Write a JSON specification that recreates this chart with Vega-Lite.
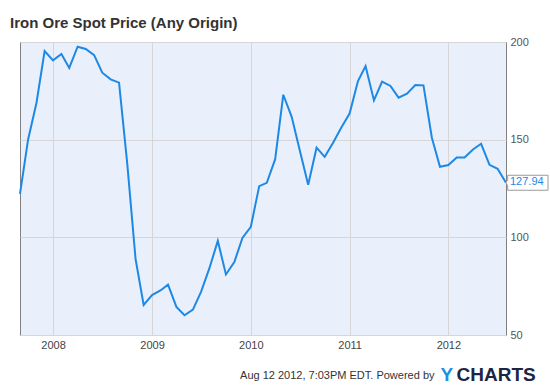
{
  "$schema": "https://vega.github.io/schema/vega-lite/v6.json",
  "width": 486,
  "height": 293,
  "autosize": "none",
  "padding": {"left": 20, "top": 42, "right": 44, "bottom": 53},
  "background": "#ffffff",
  "title": {
    "text": "Iron Ore Spot Price (Any Origin)",
    "anchor": "start",
    "frame": "group",
    "dx": -10,
    "dy": 22,
    "offset": 15.5,
    "baseline": "alphabetic",
    "font": "Liberation Sans",
    "fontSize": 15,
    "fontWeight": "bold",
    "color": "#333333"
  },
  "config": {
    "font": "Liberation Sans",
    "view": {"stroke": "#808080", "strokeWidth": 1, "fill": "#E9F0FC"},
    "axis": {"gridColor": "#d6d6d6", "gridWidth": 1, "gridOpacity": 1}
  },
  "data": {
    "values": [
      {"date": "2007-09-01", "price": 122.3},
      {"date": "2007-10-01", "price": 150.1},
      {"date": "2007-11-01", "price": 168.9},
      {"date": "2007-12-01", "price": 195.4},
      {"date": "2008-01-01", "price": 190.6},
      {"date": "2008-02-01", "price": 193.9},
      {"date": "2008-03-01", "price": 186.7},
      {"date": "2008-04-01", "price": 197.6},
      {"date": "2008-05-01", "price": 196.4},
      {"date": "2008-06-01", "price": 193.3},
      {"date": "2008-07-01", "price": 184.3},
      {"date": "2008-08-01", "price": 180.9},
      {"date": "2008-09-01", "price": 179.2},
      {"date": "2008-10-01", "price": 138.2},
      {"date": "2008-11-01", "price": 89.0},
      {"date": "2008-12-01", "price": 65.4},
      {"date": "2009-01-01", "price": 70.4},
      {"date": "2009-02-01", "price": 72.8},
      {"date": "2009-03-01", "price": 75.8},
      {"date": "2009-04-01", "price": 64.4},
      {"date": "2009-05-01", "price": 60.1},
      {"date": "2009-06-01", "price": 63.0},
      {"date": "2009-07-01", "price": 72.1},
      {"date": "2009-08-01", "price": 84.2},
      {"date": "2009-09-01", "price": 98.2},
      {"date": "2009-10-01", "price": 81.0},
      {"date": "2009-11-01", "price": 87.3},
      {"date": "2009-12-01", "price": 99.7},
      {"date": "2010-01-01", "price": 105.4},
      {"date": "2010-02-01", "price": 126.2},
      {"date": "2010-03-01", "price": 127.9},
      {"date": "2010-04-01", "price": 140.0},
      {"date": "2010-05-01", "price": 173.0},
      {"date": "2010-06-01", "price": 161.7},
      {"date": "2010-07-01", "price": 144.5},
      {"date": "2010-08-01", "price": 126.9},
      {"date": "2010-09-01", "price": 145.9},
      {"date": "2010-10-01", "price": 141.2},
      {"date": "2010-11-01", "price": 148.4},
      {"date": "2010-12-01", "price": 156.1},
      {"date": "2011-01-01", "price": 163.4},
      {"date": "2011-02-01", "price": 180.0},
      {"date": "2011-03-01", "price": 187.7},
      {"date": "2011-04-01", "price": 170.1},
      {"date": "2011-05-01", "price": 179.7},
      {"date": "2011-06-01", "price": 177.5},
      {"date": "2011-07-01", "price": 171.5},
      {"date": "2011-08-01", "price": 173.5},
      {"date": "2011-09-01", "price": 178.0},
      {"date": "2011-10-01", "price": 177.8},
      {"date": "2011-11-01", "price": 151.0},
      {"date": "2011-12-01", "price": 136.1},
      {"date": "2012-01-01", "price": 137.0},
      {"date": "2012-02-01", "price": 140.9},
      {"date": "2012-03-01", "price": 140.9},
      {"date": "2012-04-01", "price": 145.0},
      {"date": "2012-05-01", "price": 147.9},
      {"date": "2012-06-01", "price": 137.1},
      {"date": "2012-07-01", "price": 135.1},
      {"date": "2012-08-01", "price": 127.94}
    ]
  },
  "encoding": {
    "x": {
      "field": "date",
      "type": "temporal",
      "scale": {
        "type": "utc",
        "nice": false,
        "domain": [
          {"year": 2007, "month": 9, "date": 1, "utc": true},
          {"year": 2012, "month": 8, "date": 1, "utc": true}
        ]
      },
      "axis": {
        "values": [
          {"year": 2008, "month": 1, "date": 1, "utc": true},
          {"year": 2009, "month": 1, "date": 1, "utc": true},
          {"year": 2010, "month": 1, "date": 1, "utc": true},
          {"year": 2011, "month": 1, "date": 1, "utc": true},
          {"year": 2012, "month": 1, "date": 1, "utc": true}
        ],
        "format": "%Y",
        "grid": true,
        "ticks": false,
        "domain": false,
        "labelPadding": 4,
        "labelFontSize": 11,
        "labelColor": "#444444",
        "labelFlush": false,
        "title": "Aug 12 2012, 7:03PM EDT.  Powered by",
        "titleX": 414,
        "titleY": 43,
        "titleAlign": "right",
        "titleAnchor": null,
        "titleBaseline": "alphabetic",
        "titleFontSize": 11,
        "titleFontWeight": "normal",
        "titleColor": "#333333"
      }
    }
  },
  "layer": [
    {
      "mark": {"type": "line", "color": "#1E88E5", "strokeWidth": 2, "strokeJoin": "miter"},
      "encoding": {
        "y": {
          "field": "price",
          "type": "quantitative",
          "scale": {"domain": [50, 200], "nice": false, "zero": false},
          "axis": {
            "orient": "right",
            "values": [50, 100, 150, 200],
            "grid": true,
            "ticks": false,
            "domain": false,
            "labelPadding": 4,
            "labelFontSize": 11,
            "labelColor": "#555555",
            "title": "CHARTS",
            "titleAngle": 0,
            "titleX": -50,
            "titleY": 338,
            "titleAlign": "left",
            "titleAnchor": null,
            "titleBaseline": "alphabetic",
            "titleFontSize": 19,
            "titleFontWeight": 900,
            "titleColor": "#1C2641"
          }
        }
      }
    },
    {
      "transform": [{"filter": "datum.price === 127.94"}],
      "mark": {
        "type": "point",
        "shape": "M0,0 L0.17,-0.3 L0.17,-0.75 L4.2,-0.75 L4.2,0.75 L0.17,0.75 L0.17,0.3 Z",
        "size": 400,
        "filled": true,
        "fill": "#ffffff",
        "stroke": "#9a9a9a",
        "strokeWidth": 1,
        "opacity": 1
      },
      "encoding": {
        "y": {
          "field": "price",
          "type": "quantitative",
          "scale": {"domain": [50, 200], "nice": false, "zero": false},
          "axis": {
            "orient": "left",
            "labels": false,
            "grid": false,
            "ticks": false,
            "domain": false,
            "title": "Y",
            "titleAngle": 0,
            "titleX": 420,
            "titleY": 338,
            "titleAlign": "left",
            "titleAnchor": null,
            "titleBaseline": "alphabetic",
            "titleFontSize": 19,
            "titleFontWeight": 900,
            "titleColor": "#1E90E8"
          }
        }
      }
    },
    {
      "transform": [{"filter": "datum.price === 127.94"}],
      "mark": {
        "type": "text",
        "align": "left",
        "baseline": "middle",
        "dx": 4,
        "dy": -1,
        "fontSize": 11,
        "color": "#1E88E5"
      },
      "encoding": {
        "y": {"field": "price", "type": "quantitative", "scale": {"domain": [50, 200], "nice": false, "zero": false}, "axis": null},
        "text": {"field": "price", "type": "quantitative", "format": ".2f"}
      }
    }
  ],
  "resolve": {"scale": {"y": "independent"}}
}
